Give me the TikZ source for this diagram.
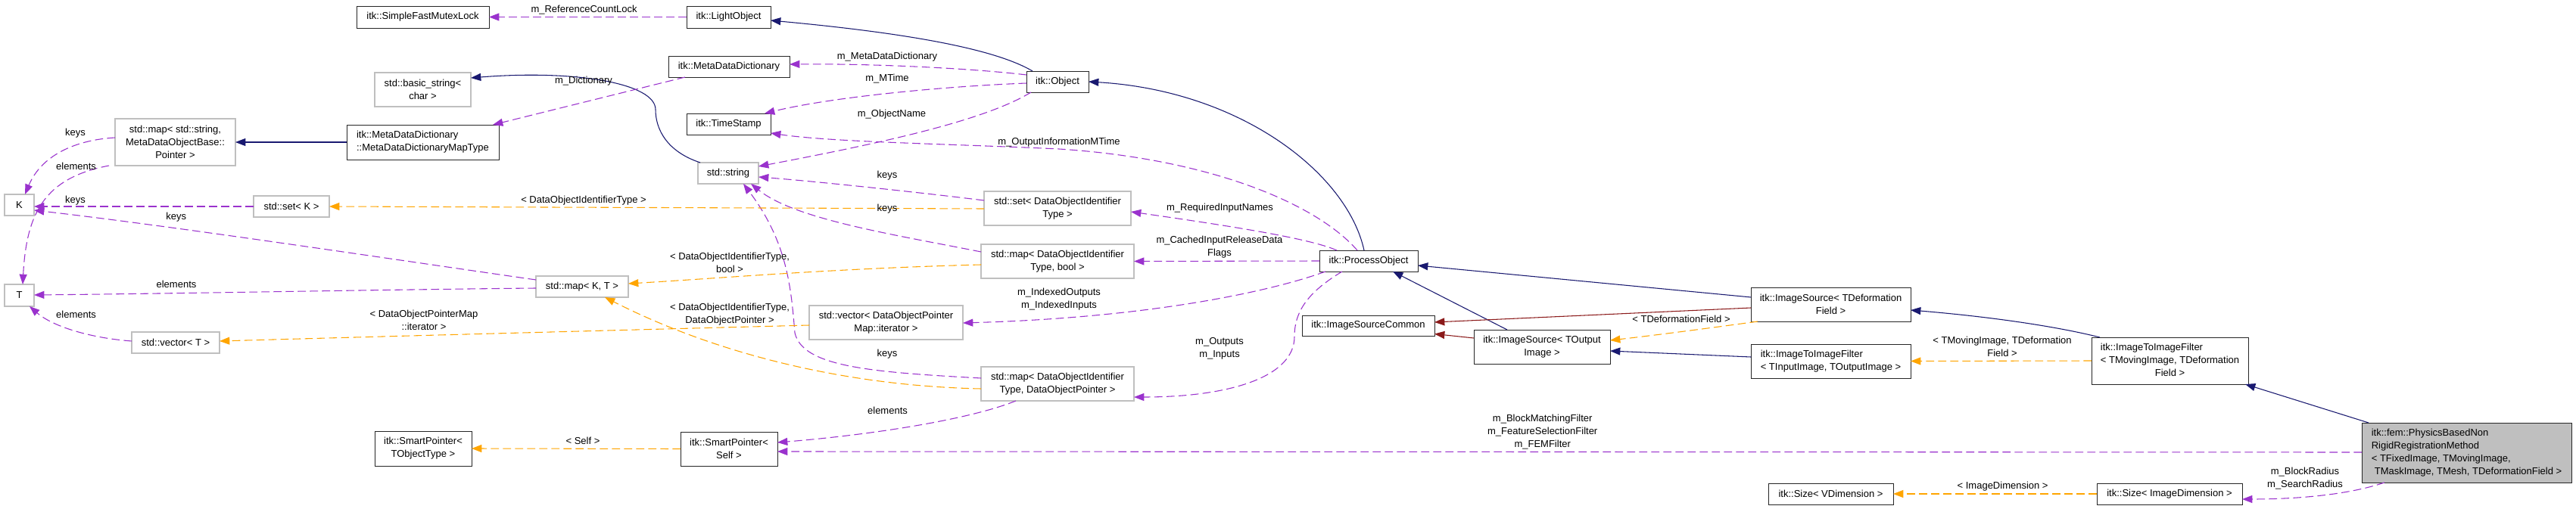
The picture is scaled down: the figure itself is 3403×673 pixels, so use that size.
\documentclass[tikz,border=0pt]{standalone}
\usepackage{fontspec}
\setmainfont{Liberation Sans}
\usetikzlibrary{arrows.meta,calc}
\definecolor{cblue}{HTML}{191970}
\definecolor{cred}{HTML}{8B1A1A}
\definecolor{cpur}{HTML}{9A32CD}
\definecolor{corg}{HTML}{FFA500}
\definecolor{cgry}{HTML}{BFBFBF}
\newcommand\dfont{\fontsize{9.75}{12.75}\selectfont}
\newcommand\mkbox[7]{\node[#6, minimum width={(#4-#2)*0.75pt}, minimum height={(#5-#3)*0.75pt}] (#1) at ({(#2+#4)/2},{(#3+#5)/2}) {#7};}
\begin{document}
\begin{tikzpicture}[x=0.75pt,y=-0.75pt,
  base/.style={rectangle, inner sep=0pt, outer sep=0pt, align=center, font=\dfont, text=black},
  bk/.style={base, draw=black!85, line width=0.7pt},
  gy/.style={base, draw=cgry, line width=1pt},
  lbl/.style={font=\dfont, align=center, inner sep=0pt, text=black},
  tipp/.style={-{Triangle[length=10pt,width=7.5pt]}},
  inh/.style={draw=cblue, line width=0.8pt, tipp},
  prot/.style={draw=cred, line width=0.8pt, tipp},
  usg/.style={draw=cpur, line width=0.8pt, dash pattern=on 8pt off 4pt, tipp},
  tmpl/.style={draw=corg, line width=0.8pt, dash pattern=on 8pt off 4pt, tipp},
]
\fill[white] (0,0) rectangle (3403,673);
\useasboundingbox (0,0) rectangle (3403,673);

% nodes
\mkbox{SFML}{471}{8}{646}{37}{bk}{itk::SimpleFastMutexLock}
\mkbox{LO}{907}{8}{1018}{37}{bk}{itk::LightObject}
\mkbox{BS}{495}{96}{622}{141}{gy}{std::basic\_string<\\char >}
\mkbox{MDD}{883}{74}{1043}{102}{bk}{itk::MetaDataDictionary}
\mkbox{MAPT}{458}{165}{659}{211}{bk,align=left}{itk::MetaDataDictionary\\::MetaDataDictionaryMapType}
\mkbox{MAPS}{152}{157}{311}{219}{gy}{std::map< std::string,\\ MetaDataObjectBase::\\Pointer >}
\mkbox{TS}{907}{150}{1018}{178}{bk}{itk::TimeStamp}
\mkbox{STR}{922}{215}{1002}{243}{gy}{std::string}
\mkbox{OBJ}{1356}{94}{1438}{122}{bk}{itk::Object}
\mkbox{K}{6}{257}{45}{285}{gy}{K}
\mkbox{T}{6}{376}{45}{405}{gy}{T}
\mkbox{SETK}{335}{259}{435}{287}{gy}{std::set< K >}
\mkbox{SETD}{1300}{253}{1494}{298}{gy}{std::set< DataObjectIdentifier\\Type >}
\mkbox{MAPKT}{708}{365}{830}{393}{gy}{std::map< K, T >}
\mkbox{MAPDB}{1296}{323}{1498}{368}{gy}{std::map< DataObjectIdentifier\\Type, bool >}
\mkbox{VECT}{174}{439}{290}{467}{gy}{std::vector< T >}
\mkbox{VECD}{1069}{404}{1272}{449}{gy}{std::vector< DataObjectPointer\\Map::iterator >}
\mkbox{MAPDP}{1296}{485}{1498}{530}{gy}{std::map< DataObjectIdentifier\\Type, DataObjectPointer >}
\mkbox{SPT}{495}{570}{623}{616}{bk}{itk::SmartPointer<\\TObjectType >}
\mkbox{SPS}{899}{571}{1027}{616}{bk}{itk::SmartPointer<\\Self >}
\mkbox{PO}{1743}{331}{1873}{359}{bk}{itk::ProcessObject}
\mkbox{ISC}{1720}{417}{1895}{444}{bk}{itk::ImageSourceCommon}
\mkbox{ISO}{1947}{436}{2127}{481}{bk}{itk::ImageSource< TOutput\\Image >}
\mkbox{ISD}{2313}{380}{2524}{425}{bk}{itk::ImageSource< TDeformation\\Field >}
\mkbox{ITIF}{2313}{455}{2524}{500}{bk,align=left}{itk::ImageToImageFilter\\< TInputImage, TOutputImage >}
\mkbox{ITIM}{2763}{446}{2970}{508}{bk}{\begin{tabular}{@{}l@{}}itk::ImageToImageFilter\\< TMovingImage, TDeformation\\\multicolumn{1}{@{}c@{}}{Field >}\end{tabular}}
\mkbox{SZV}{2336}{639}{2501}{667}{bk}{itk::Size< VDimension >}
\mkbox{SZI}{2770}{639}{2962}{667}{bk}{itk::Size< ImageDimension >}
\mkbox{MAIN}{3120}{559}{3397}{638}{bk,fill=cgry,align=left}{itk::fem::PhysicsBasedNon\\RigidRegistrationMethod\\< TFixedImage, TMovingImage,\\\hspace*{3pt}TMaskImage, TMesh, TDeformationField >}

% edges
\draw[usg] (LO.west) -- (SFML.east);
\draw[inh] ($(OBJ)+(-33,-14)$) .. controls (1310,62) and (1180,42) .. ($(LO)+(55.5,4.5)$);
\draw[usg] ($(OBJ)+(-41,-9)$) .. controls (1280,90) and (1150,84) .. ($(MDD)+(80,-3)$);
\draw[usg] ($(OBJ)+(-41,2)$) .. controls (1250,114) and (1100,128) .. ($(TS)+(47.5,-14)$);
\draw[usg] ($(OBJ)+(-35,14)$) .. controls (1300,160) and (1160,190) .. ($(STR)+(40,-9)$);
\draw[usg] ($(PO)+(-15,-14)$) .. controls (1740,270) and (1600,210) .. (1399,197) .. controls (1250,190) and (1100,188) .. ($(TS)+(55.5,12)$);
\draw[usg] ($(SETD)+(-97,-10.5)$) .. controls (1220,255) and (1080,240) .. ($(STR)+(40,5)$);
\draw[usg] ($(MAPDB)+(-101,-12.5)$) .. controls (1180,310) and (1050,290) .. ($(STR)+(30,14)$);
\draw[usg] ($(MAPDP)+(-101,-7.5)$) .. controls (1150,492) and (1060,485) .. (1050,440) .. controls (1045,380) and (1040,320) .. ($(STR)+(20,14)$);
\draw[usg] ($(MAPS)+(-79.5,-6)$) .. controls (100,185) and (55,205) .. ($(K)+(7.5,-14)$);
\draw[usg] ($(MAPS)+(-87.5,31)$) .. controls (60,235) and (35,280) .. ($(T)+(4.5,-14.5)$);
\draw[usg] (SETK.west) -- ($(K)+(19.5,2)$);
\draw[usg] ($(MAPKT)+(-61,-9)$) .. controls (500,340) and (220,298) .. ($(K)+(19.5,7)$);
\draw[usg] ($(MAPKT)+(-61,2)$) .. controls (500,383) and (250,388) .. ($(T)+(19.5,-0.5)$);
\draw[usg] ($(VECT)+(-58,-2)$) .. controls (120,447) and (70,432) .. ($(T)+(13.5,14.5)$);
\draw[tmpl] ($(SETD)+(-97,0.5)$) -- (SETK.east);
\draw[tmpl] ($(MAPDB)+(-101,4.5)$) .. controls (1100,355) and (950,368) .. ($(MAPKT)+(61,-4)$);
\draw[tmpl] ($(MAPDP)+(-101,6.5)$) .. controls (1100,510) and (930,460) .. ($(MAPKT)+(30,14)$);
\draw[tmpl] ($(VECD)+(-101.5,3.5)$) .. controls (800,437) and (500,445) .. ($(VECT)+(58,-2)$);
\draw[tmpl] (SPS.west) -- (SPT.east);
\draw[usg] ($(MAPDP)+(-55,22.5)$) .. controls (1280,555) and (1150,575) .. ($(SPS)+(64,-8.5)$);
\draw[usg] ($(MAIN)+(-138.5,-0.5)$) -- ($(SPS)+(64,3.5)$);
\draw[usg] ($(PO)+(-42,-14)$) .. controls (1730,315) and (1620,298) .. ($(SETD)+(97,4.5)$);
\draw[usg] (PO.west) -- (MAPDB.east);
\draw[usg] ($(PO)+(-57,14)$) .. controls (1680,385) and (1520,420) .. ($(VECD)+(101.5,0.5)$);
\draw[usg] ($(PO)+(-35,14)$) .. controls (1730,385) and (1710,410) .. (1710,445) .. controls (1710,500) and (1620,525) .. ($(MAPDP)+(101,17.5)$);
\draw[inh] ($(PO)+(-6,-14)$) .. controls (1780,230) and (1640,120) .. ($(OBJ)+(41,0)$);
\draw[inh] ($(ISO)+(-46,-22.5)$) -- ($(PO)+(32,14)$);
\draw[prot] ($(ISO)+(-90,-11.5)$) -- ($(ISC)+(87.5,11)$);
\draw[inh] ($(ISD)+(-105.5,-9.5)$) -- ($(PO)+(65,6)$);
\draw[prot] ($(ISD)+(-105.5,4.5)$) -- ($(ISC)+(87.5,-4.5)$);
\draw[tmpl] ($(ISD)+(-96.5,22.5)$) .. controls (2250,435) and (2180,444) .. ($(ISO)+(90,-8.5)$);
\draw[inh] ($(ITIF)+(-105.5,-5.5)$) -- ($(ISO)+(90,5.5)$);
\draw[inh] ($(ITIM)+(-92.5,-31)$) .. controls (2710,430) and (2620,418) .. ($(ISD)+(105.5,7.5)$);
\draw[tmpl] (ITIM.west) -- (ITIF.east);
\draw[inh] ($(MAIN)+(-129.5,-39.5)$) -- ($(ITIM)+(99.5,31)$);
\draw[usg] ($(MAIN)+(-108.5,39.5)$) .. controls (3100,655) and (3030,660) .. ($(SZI)+(96,7)$);
\draw[tmpl] (SZI.west) -- (SZV.east);
\draw[inh] (MAPT.west) -- (MAPS.east);
\draw[inh] ($(STR)+(-37,-14)$) .. controls (880,200) and (866,170) .. (866,145) .. controls (866,110) and (760,92) .. ($(BS)+(63.5,-15.5)$);
\draw[usg] ($(MDD)+(-58,14)$) -- ($(MAPT)+(92.5,-23)$);

% labels
\node[lbl] (L1) at (771.6,13) {m\_ReferenceCountLock};
\node[lbl] (L2) at (1172,75) {m\_MetaDataDictionary};
\node[lbl] (L3) at (1172,104) {m\_MTime};
\node[lbl] (L4) at (1178,151) {m\_ObjectName};
\node[lbl] (L5) at (1399,188) {m\_OutputInformationMTime};
\node[lbl] (L6) at (1172,232) {keys};
\node[lbl] (L7) at (1172,276) {keys};
\node[lbl] (L8) at (1611.5,275) {m\_RequiredInputNames};
\node[lbl] (L9) at (1611,326.5) {m\_CachedInputReleaseData\\Flags};
\node[lbl] (L10) at (1399,395.5) {m\_IndexedOutputs\\m\_IndexedInputs};
\node[lbl] (L11) at (1611,461) {m\_Outputs\\m\_Inputs};
\node[lbl] (L12) at (1172,468) {keys};
\node[lbl] (L13) at (1172.5,543) {elements};
\node[lbl] (L14) at (2037.7,571) {m\_BlockMatchingFilter\\m\_FeatureSelectionFilter\\m\_FEMFilter};
\node[lbl] (L15) at (2221,422) {< TDeformationField >};
\node[lbl] (L16) at (2645,458.5) {< TMovingImage, TDeformation\\Field >};
\node[lbl] (L17) at (2645.6,643) {< ImageDimension >};
\node[lbl] (L18) at (3045,633) {m\_BlockRadius\\m\_SearchRadius};
\node[lbl] (L19) at (770,583) {< Self >};
\node[lbl] (L20) at (964,347) {< DataObjectIdentifierType,\\bool >};
\node[lbl] (L21) at (964,416) {< DataObjectIdentifierType,\\DataObjectPointer >};
\node[lbl] (L22) at (771,265) {< DataObjectIdentifierType >};
\node[lbl] (L23) at (560,423.5) {< DataObjectPointerMap\\::iterator >};
\node[lbl] (L24) at (771,107) {m\_Dictionary};
\node[lbl] (L25) at (99.5,176) {keys};
\node[lbl] (L26) at (100.6,220) {elements};
\node[lbl] (L27) at (99.5,265) {keys};
\node[lbl] (L28) at (232.7,287) {keys};
\node[lbl] (L29) at (233,376) {elements};
\node[lbl] (L30) at (100.6,416) {elements};
\end{tikzpicture}
\end{document}
